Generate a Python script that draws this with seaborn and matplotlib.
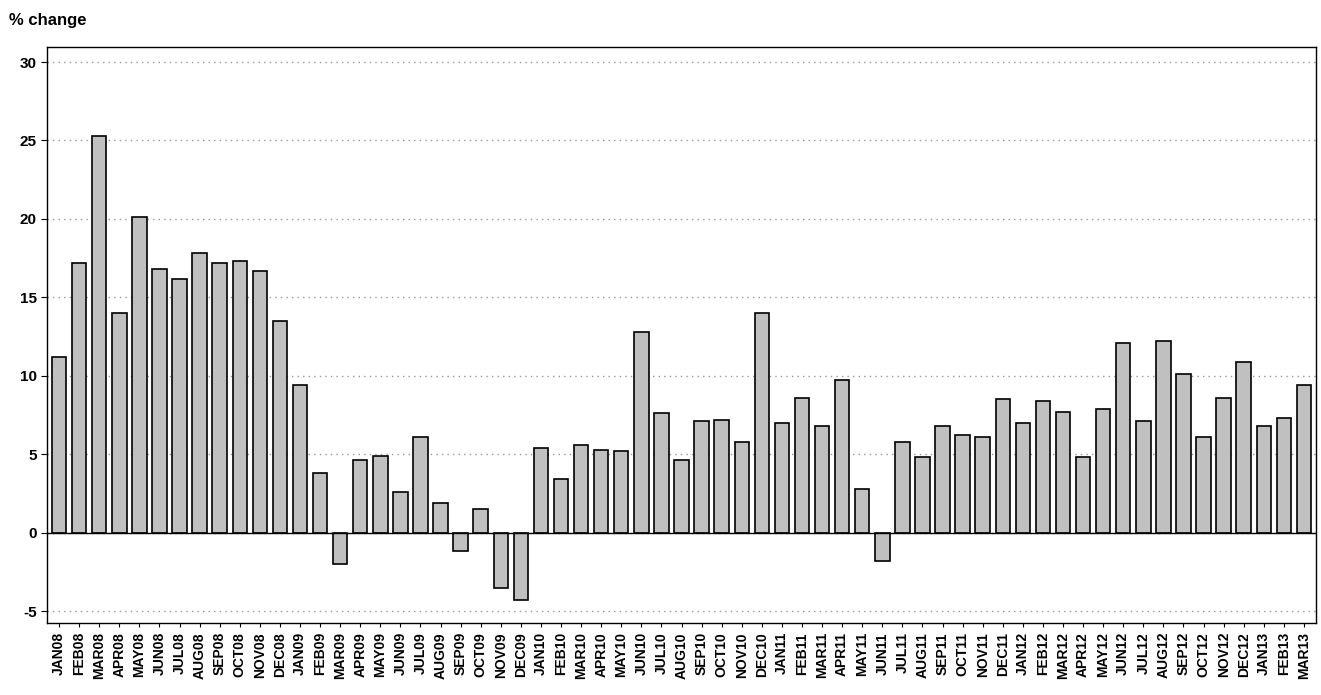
import matplotlib
matplotlib.use("Agg")
import matplotlib.pyplot as plt
import seaborn as sns
import pandas as pd

months = ["JAN","FEB","MAR","APR","MAY","JUN","JUL","AUG","SEP","OCT","NOV","DEC"]
labels = [f"{m}{y:02d}" for y in range(8, 14) for m in months][:63]
values = [11.2, 17.2, 25.3, 14.0, 20.1, 16.8, 16.2, 17.8, 17.2, 17.3, 16.7, 13.5,
          9.4, 3.8, -2.0, 4.6, 4.9, 2.6, 6.1, 1.9, -1.2, 1.5, -3.5, -4.3,
          5.4, 3.4, 5.6, 5.3, 5.2, 12.8, 7.6, 4.6, 7.1, 7.2, 5.8, 14.0,
          7.0, 8.6, 6.8, 9.7, 2.8, -1.8, 5.8, 4.8, 6.8, 6.2, 6.1, 8.5,
          7.0, 8.4, 7.7, 4.8, 7.9, 12.1, 7.1, 12.2, 10.1, 6.1, 8.6, 10.9,
          6.8, 7.3, 9.4]
df = pd.DataFrame({"month": labels, "value": values})

sns.set_style("white")
plt.rcParams['font.family'] = ['Liberation Sans', 'DejaVu Sans']
plt.rcParams['axes.unicode_minus'] = False
plt.rcParams['text.color'] = 'black'
plt.rcParams['xtick.color'] = 'black'
plt.rcParams['ytick.color'] = 'black'
fig = plt.figure(figsize=(13.21, 6.95), dpi=100)
ax = fig.add_axes([47/1321, 1-623/695, (1316-47)/1321, (623-47)/695])
ax.set_axisbelow(True)
ax.grid(axis='y', linestyle=(0, (1, 3)), color='#999999', linewidth=1)
sns.barplot(data=df, x="month", y="value", color="#c0c0c0", edgecolor="black",
            linewidth=1.2, width=0.72, saturation=1, ax=ax)
ax.axhline(0, color='black', linewidth=1)
ax.set_ylim(-5.76, 30.96)
ax.set_xlim(-0.6, 62.6)
ax.set_yticks([-5, 0, 5, 10, 15, 20, 25, 30])
ax.set_xlabel("")
ax.set_ylabel("")
ax.tick_params(axis='x', rotation=90, labelsize=10, length=3, color='black')
ax.tick_params(axis='y', labelsize=11, length=4, left=True, color='black')
ax.tick_params(axis='x', bottom=True)
for t in ax.get_xticklabels() + ax.get_yticklabels():
    t.set_fontweight('bold')
for s in ax.spines.values():
    s.set_color('black'); s.set_linewidth(1)
fig.text(9/1321, 1-20/695, "% change", fontsize=12, fontweight='bold', va='center')
fig.savefig("out.png", dpi=100)
